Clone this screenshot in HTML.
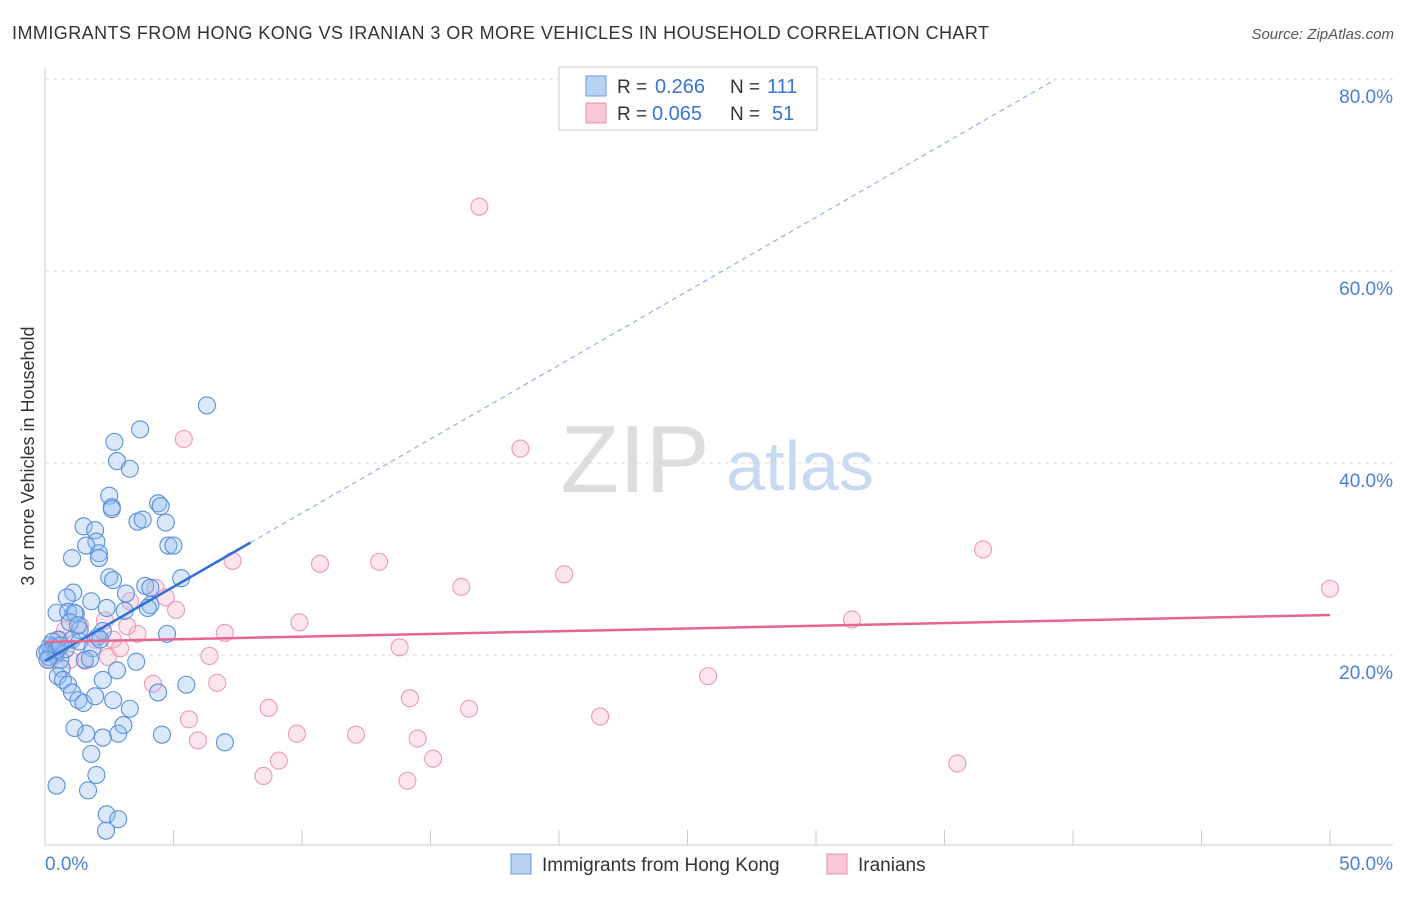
<!DOCTYPE html>
<html><head><meta charset="utf-8"><style>
body{margin:0;background:#fff;font-family:"Liberation Sans",sans-serif;}
svg text{font-family:"Liberation Sans",sans-serif;}
</style></head><body>
<svg width="1406" height="892">
<text x="12" y="39" font-size="18" fill="#333" textLength="977" lengthAdjust="spacing">IMMIGRANTS FROM HONG KONG VS IRANIAN 3 OR MORE VEHICLES IN HOUSEHOLD CORRELATION CHART</text>
<text x="1394" y="39" font-size="15" fill="#555" font-style="italic" text-anchor="end">Source: ZipAtlas.com</text>
<g id="grid"></g>
<g>
<text x="635" y="492" font-size="96" fill="#ddd" text-anchor="middle" font-family="Liberation Serif,serif">ZIP</text>
<text x="800" y="490" font-size="70" fill="#c8daf2" text-anchor="middle">atlas</text>
</g>
<text transform="translate(34,456) rotate(-90)" font-size="18" fill="#333" text-anchor="middle">3 or more Vehicles in Household</text>
<g id="pts"></g>
<g id="lines"></g>
<g>
<rect x="559" y="67" width="258" height="63" fill="#fff" stroke="#ccc"/>
<rect x="586" y="76" width="20" height="20" fill="#b8d2f4" stroke="#6a9ae0"/>
<rect x="586" y="103" width="20" height="20" fill="#f8c6d4" stroke="#e890aa"/>
<g font-size="19" fill="#333">
<text x="617" y="93">R =</text><text x="655" y="93" fill="#3a74d0" font-size="20">0.266</text>
<text x="730" y="93">N =</text><text x="767" y="93" fill="#3a74d0" font-size="20">111</text>
<text x="617" y="120">R =</text><text x="652" y="120" fill="#3a74d0" font-size="20">0.065</text>
<text x="730" y="120">N =</text><text x="772" y="120" fill="#3a74d0" font-size="20">51</text>
</g>
</g>
<g>
<rect x="511" y="854" width="20" height="20" fill="#b8d2f4" stroke="#6a9ae0"/>
<text x="542" y="871" font-size="19" fill="#333">Immigrants from Hong Kong</text>
<rect x="827" y="854" width="20" height="20" fill="#f8c6d4" stroke="#e890aa"/>
<text x="858" y="871" font-size="19" fill="#333">Iranians</text>
</g>
</svg>
<script>
const yTicks=[20,40,60,80];
const xTickLabels=["0.0%","50.0%"];
const blueX=[6.3,3.7,2.7,2.8,3.3,2.5,2.6,2.6,4.4,4.5,4.7,3.6,3.8,1.5,1.95,2.0,1.6,2.1,2.1,1.05,4.8,5.0,2.5,2.65,5.3,3.9,4.1,1.1,0.85,3.15,1.8,2.4,4.1,4.0,3.1,0.45,0.9,1.2,4.75,2.25,2.05,1.35,1.15,0.5,0.3,0.1,0.4,0.6,0.8,1.05,1.35,1.85,2.15,0.65,0.5,0.7,0.9,1.55,1.75,2.25,2.8,3.55,1.05,1.3,1.5,1.95,2.65,2.85,3.05,3.3,4.55,2.25,1.6,1.15,1.8,2.0,0.45,1.675,2.4,2.85,2.375,7.0,5.5,4.4,0.15,0.2,0.3,0.45,0.0,0.1,0.6,0.97,1.28];
const blueY=[46.0,43.5,42.2,40.2,39.4,36.6,35.4,35.2,35.8,35.5,33.8,33.9,34.1,33.4,33.0,31.8,31.4,30.6,30.1,30.1,31.4,31.4,28.1,27.8,28.0,27.2,27.0,26.5,26.0,26.4,25.6,24.9,25.2,24.9,24.6,24.4,24.5,24.3,22.2,22.5,21.9,22.6,24.4,21.6,20.8,20.3,20.0,19.5,20.6,21.6,21.4,20.7,21.6,18.6,17.8,17.4,16.9,19.5,19.6,17.4,18.4,19.3,16.1,15.3,15.0,15.7,15.3,11.8,12.7,14.4,11.7,11.4,11.8,12.4,9.7,7.5,6.4,5.9,3.4,2.9,1.7,10.9,16.9,16.1,19.8,21.0,21.4,20.5,20.2,19.5,21.0,23.4,23.1];
const pinkX=[16.9,5.4,18.5,36.5,50.0,7.3,10.7,13.0,16.2,20.2,4.3,4.7,5.1,31.4,9.9,7.0,3.6,3.2,13.8,6.4,25.8,6.7,4.2,14.2,8.7,16.5,5.6,21.6,9.8,12.1,14.5,5.95,9.1,15.1,8.5,35.5,14.1,2.45,1.95,1.36,0.58,0.39,0.97,2.65,2.92,1.56,0.78,2.33,0.19,3.31];
const pinkY=[66.7,42.5,41.5,31.0,26.9,29.8,29.5,29.7,27.1,28.4,27.0,26.0,24.7,23.7,23.4,22.3,22.2,23.0,20.8,19.9,17.8,17.1,17.0,15.5,14.5,14.4,13.3,13.6,11.8,11.7,11.3,11.1,9.0,9.2,7.4,8.7,6.9,19.8,21.6,23.1,21.6,20.5,19.5,21.6,20.7,19.4,22.6,23.6,19.5,25.6];
const blueLine=[19.4,1.54], pinkLine=[21.35,0.0564];
const NS="http://www.w3.org/2000/svg";
const X=v=>45+v*25.7, Y=v=>847-v*9.6;
function mk(t,a,p){const e=document.createElementNS(NS,t);for(const k in a)e.setAttribute(k,a[k]);p.appendChild(e);return e;}
const grid=document.getElementById('grid');
mk('line',{x1:45,y1:68,x2:45,y2:845,stroke:'#ccc'},grid);
mk('line',{x1:45,y1:845,x2:1393,y2:845,stroke:'#ccc'},grid);
yTicks.forEach(t=>{
 const l=mk('line',{x1:45,y1:Y(t),x2:1393,y2:Y(t),stroke:'#ddd','stroke-dasharray':'4,4'},grid);
 
 
 const tx=mk('text',{x:1393,y:Y(t)+24,'font-size':19,fill:'#4a7fd6','text-anchor':'end'},grid);
 tx.textContent=t.toFixed(1)+'%';
 
 
});
for(let i=0;i<=10;i++){mk('line',{x1:X(i*5),y1:830,x2:X(i*5),y2:845,stroke:'#ccc'},grid);}
xTickLabels.forEach((s,i)=>{
 const tx=mk('text',{x:i?1393:45,y:870,'font-size':19,fill:'#4a7fd6','text-anchor':i?'end':'start'},grid);
 tx.textContent=s;
 
 
});
const pts=document.getElementById('pts');
pinkX.forEach((x,i)=>{const c=mk('circle',{cx:X(x),cy:Y(pinkY[i]),r:8.5,fill:'rgba(244,170,194,0.3)',stroke:'#ec9ab4','stroke-width':1.1},pts);
 
 });
blueX.forEach((x,i)=>{const c=mk('circle',{cx:X(x),cy:Y(blueY[i]),r:8.5,fill:'rgba(150,190,240,0.35)',stroke:'#5a90da','stroke-width':1.1},pts);
 
 });
const ln=document.getElementById('lines');
const bf=x=>blueLine[0]+blueLine[1]*x, pf=x=>pinkLine[0]+pinkLine[1]*x;
let a=mk('line',{x1:X(0),y1:Y(bf(0)),x2:X(8),y2:Y(bf(8)),stroke:'#2f6fd6','stroke-width':2.5},ln);


a=mk('line',{x1:X(8),y1:Y(bf(8)),x2:X(39.3),y2:Y(bf(39.3)),stroke:'#8fb2e8','stroke-width':1.2,'stroke-dasharray':'5,4'},ln);


a=mk('line',{x1:X(0),y1:Y(pf(0)),x2:X(50),y2:Y(pf(50)),stroke:'#e8668e','stroke-width':2.5},ln);


</script>
</body></html>
